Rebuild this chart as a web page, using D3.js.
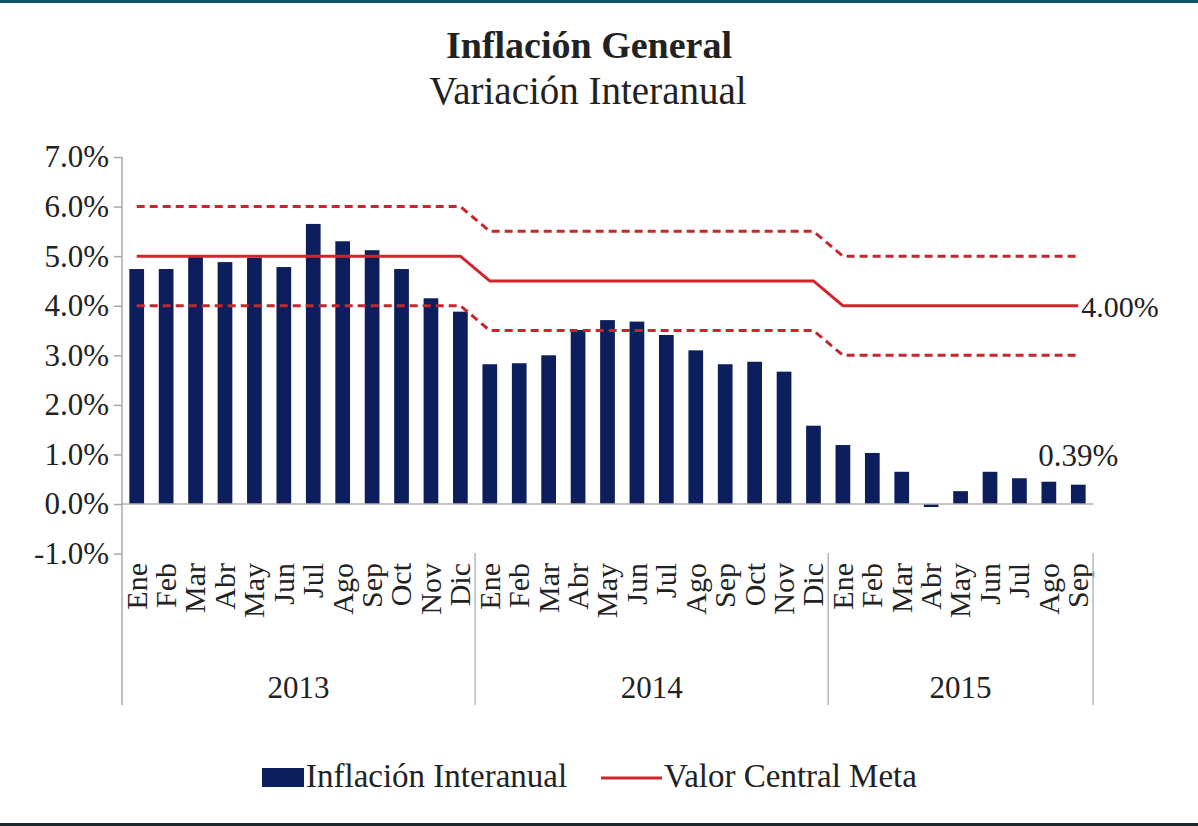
<!DOCTYPE html>
<html lang="es">
<head>
    <meta charset="UTF-8">
    <title>Inflación General</title>
    <style>
        body {
            margin: 0;
            padding: 0;
            background-color: #ffffff;
            overflow: hidden;
        }
        svg text {
            font-family: 'Liberation Serif', 'Times New Roman', serif;
            fill: #222;
        }
        .tick line {
            stroke: #a8a8a8;
            stroke-width: 1.5px;
        }
    </style>
</head>
<body>
    <div id="chart"></div>

    <script src="https://d3js.org/d3.v7.min.js"></script>
    <script>
        const width = 1198;
        const height = 826;

        // data
        const years = ["2013", "2014", "2015"];
        const monthsPerYear = [12, 12, 9];
        const monthNames = ["Ene", "Feb", "Mar", "Abr", "May", "Jun", "Jul", "Ago", "Sep", "Oct", "Nov", "Dic"];
        const inflation = [
            4.74, 4.74, 4.99, 4.88, 4.97, 4.78, 5.65, 5.30, 5.12, 4.74, 4.15, 3.88,
            2.82, 2.84, 3.00, 3.51, 3.71, 3.68, 3.41, 3.10, 2.82, 2.87, 2.67, 1.58,
            1.19, 1.03, 0.65, -0.06, 0.26, 0.65, 0.52, 0.45, 0.39
        ];
        const targetCentral = [5.0, 4.5, 4.0];
        const targetBand = 1.0;
        const yTicks = [-1, 0, 1, 2, 3, 4, 5, 6, 7];

        // one entry per month
        const months = [];
        years.forEach((yr, yi) => {
            for (let m = 0; m < monthsPerYear[yi]; m++) {
                months.push({
                    i: months.length,
                    label: monthNames[m],
                    year: yr,
                    value: inflation[months.length],
                    central: targetCentral[yi]
                });
            }
        });

        const plotLeft = 122;
        const plotRight = 1093;
        const pct = v => v.toFixed(1) + '%';

        const svg = d3.select('#chart')
            .append('svg')
            .attr('width', width)
            .attr('height', height);

        // frame lines top and bottom
        svg.append('rect').attr('x', 0).attr('y', 0).attr('width', width).attr('height', 3).attr('fill', '#0d5566');
        svg.append('rect').attr('x', 0).attr('y', 823).attr('width', width).attr('height', 3).attr('fill', '#1b2830');

        // titles
        svg.append('text')
            .attr('x', 589).attr('y', 58)
            .attr('text-anchor', 'middle')
            .style('font-size', '38px')
            .style('font-weight', 'bold')
            .text('Inflación General');
        svg.append('text')
            .attr('x', 588).attr('y', 104)
            .attr('text-anchor', 'middle')
            .style('font-size', '39px')
            .text('Variación Interanual');

        const x = d3.scaleBand()
            .domain(months.map(d => d.i))
            .range([plotLeft, plotRight])
            .paddingInner(0.5)
            .paddingOuter(0.25);

        const y = d3.scaleLinear()
            .domain([-1, 7])
            .range([553.6, 157]);

        const cx = i => x(i) + x.bandwidth() / 2;

        // y axis
        const yAxis = svg.append('g')
            .attr('transform', `translate(${plotLeft},0)`)
            .call(d3.axisLeft(y).tickValues(yTicks).tickSize(8).tickPadding(5).tickFormat(pct));
        yAxis.select('.domain').remove();
        yAxis.selectAll('text').style('font-size', '31px').attr('fill', '#222');

        svg.append('line')
            .attr('x1', plotLeft).attr('x2', plotLeft)
            .attr('y1', y(7)).attr('y2', 705)
            .attr('stroke', '#a8a8a8').attr('stroke-width', 1.5);

        // bars
        svg.selectAll('.bar')
            .data(months)
            .enter().append('rect')
            .attr('class', 'bar')
            .attr('x', d => x(d.i))
            .attr('width', x.bandwidth())
            .attr('y', d => y(Math.max(0, d.value)))
            .attr('height', d => Math.abs(y(d.value) - y(0)))
            .attr('fill', '#0c1f5c');

        // zero line
        svg.append('line')
            .attr('x1', plotLeft).attr('x2', plotRight)
            .attr('y1', y(0)).attr('y2', y(0))
            .attr('stroke', '#b0b0b0').attr('stroke-width', 1.5);

        // target lines
        const line = d3.line().x(d => cx(d.i)).y(d => y(d.v));
        const bands = [
            { off: targetBand, dash: '8,5' },
            { off: -targetBand, dash: '8,5' },
            { off: 0, dash: null }
        ];
        bands.forEach(b => {
            svg.append('path')
                .datum(months.map(d => ({ i: d.i, v: d.central + b.off })))
                .attr('d', line)
                .attr('fill', 'none')
                .attr('stroke', b.dash ? '#c6262e' : '#d0262b')
                .attr('stroke-width', 3)
                .attr('stroke-dasharray', b.dash);
        });

        // end labels
        const last = months[months.length - 1];
        svg.append('text')
            .attr('x', cx(last.i) + 3).attr('y', y(last.central) + 11)
            .style('font-size', '30px')
            .attr('fill', '#333')
            .text(last.central.toFixed(2) + '%');
        svg.append('text')
            .attr('x', cx(last.i) + 40).attr('y', 466)
            .attr('text-anchor', 'end')
            .style('font-size', '31px')
            .attr('fill', '#333')
            .text(last.value.toFixed(2) + '%');

        // month labels
        svg.selectAll('.month')
            .data(months)
            .enter().append('text')
            .attr('class', 'month')
            .attr('transform', d => `translate(${cx(d.i)},563) rotate(-90)`)
            .attr('text-anchor', 'end')
            .attr('dy', '0.33em')
            .style('font-size', '30px')
            .text(d => d.label);

        // year groups
        const sepY1 = 553, sepY2 = 705;
        let start = 0;
        years.forEach((yr, yi) => {
            const end = start + monthsPerYear[yi];
            const x0 = yi === 0 ? plotLeft : x(start) - x.step() * x.paddingInner() / 2;
            const x1 = end === months.length ? plotRight : x(end) - x.step() * x.paddingInner() / 2;
            if (yi > 0) {
                svg.append('line')
                    .attr('x1', x0).attr('x2', x0).attr('y1', sepY1).attr('y2', sepY2)
                    .attr('stroke', '#b8b8b8').attr('stroke-width', 1.5);
            }
            if (end === months.length) {
                svg.append('line')
                    .attr('x1', x1).attr('x2', x1).attr('y1', sepY1).attr('y2', sepY2)
                    .attr('stroke', '#b8b8b8').attr('stroke-width', 1.5);
            }
            svg.append('text')
                .attr('x', (x0 + x1) / 2).attr('y', 698)
                .attr('text-anchor', 'middle')
                .style('font-size', '31px')
                .text(yr);
            start = end;
        });

        // legend
        const legend = svg.append('g');
        legend.append('rect')
            .attr('x', 262).attr('y', 768).attr('width', 42).attr('height', 19)
            .attr('fill', '#0c1f5c');
        legend.append('text')
            .attr('x', 306).attr('y', 787)
            .style('font-size', '33px')
            .text('Inflación Interanual');
        legend.append('line')
            .attr('x1', 601).attr('x2', 662).attr('y1', 778).attr('y2', 778)
            .attr('stroke', '#d0262b').attr('stroke-width', 3);
        legend.append('text')
            .attr('x', 664).attr('y', 787)
            .style('font-size', '33px')
            .text('Valor Central Meta');
    </script>
</body>
</html>
